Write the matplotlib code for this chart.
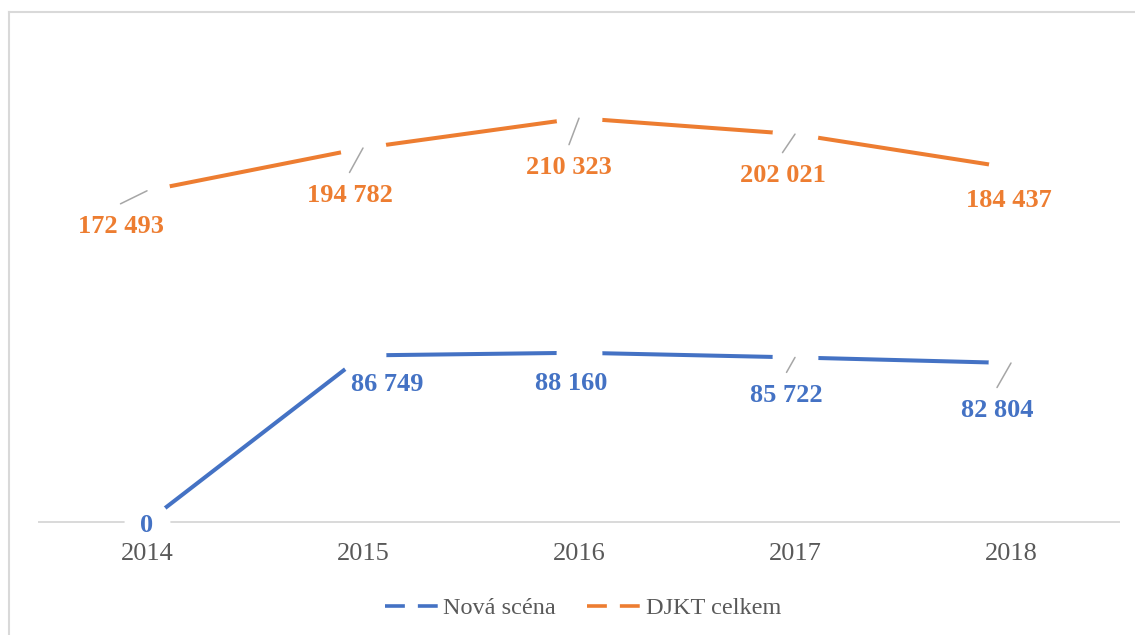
import matplotlib.pyplot as plt
from matplotlib.lines import Line2D

years = ['2014', '2015', '2016', '2017', '2018']
nova_scena = [0, 86749, 88160, 85722, 82804]
djkt_celkem = [172493, 194782, 210323, 202021, 184437]

# label placement relative to the point, in pixels (dx, dy downwards)
nova_offsets = [(0, 1), (24, 26), (-8, 28), (-8.5, 35), (-14, 44.5)]
djkt_offsets = [(-26.5, 33), (-13.5, 44.5), (-10, 46.5), (-12.5, 38.5), (-2, 30)]
nova_leaders = [False, False, False, True, True]
djkt_leaders = [True, True, True, True, False]

BLUE = '#4472C4'
ORANGE = '#ED7D31'
GRAY = '#595959'
FONT = 'Liberation Serif'


def fmt(v):
    return f'{v:,}'.replace(',', ' ')


def draw_series(ax, values, color, offsets, leaders):
    x = list(range(len(values)))
    ax.plot(x, values, color=color, lw=2.9, zorder=1.2, solid_capstyle='butt')
    # Excel leaves a gap in the line around each data label
    ax.plot(x, values, ls='none', marker='o', ms=33, mfc='white', mew=0,
            zorder=1.6, clip_on=False)
    for i, v in enumerate(values):
        dx, dy = offsets[i]
        if leaders[i]:
            ax.annotate('', xy=(i, v), xytext=(dx, -(dy - 20)),
                        textcoords='offset pixels',
                        arrowprops=dict(arrowstyle='-', color='#A6A6A6', lw=1.1,
                                        shrinkA=0, shrinkB=0), zorder=4)
        ax.annotate(fmt(v), xy=(i, v), xytext=(dx, -(dy + 9.5)),
                    textcoords='offset pixels', ha='center', va='baseline',
                    fontsize=19, fontweight='bold', color=color,
                    family=FONT, zorder=5, annotation_clip=False)


fig = plt.figure(figsize=(11.35, 6.35), dpi=100)
ax = fig.add_axes([39 / 1135, 113 / 635, 1080 / 1135, 480 / 635])

draw_series(ax, nova_scena, BLUE, nova_offsets, nova_leaders)
draw_series(ax, djkt_celkem, ORANGE, djkt_offsets, djkt_leaders)

ax.set_xlim(-0.5, len(years) - 0.5)
ax.set_ylim(0, 250000)
ax.set_xticks(range(len(years)))
ax.set_xticklabels(years, fontsize=19, color=GRAY, family=FONT)
ax.tick_params(axis='x', length=0, pad=15)
ax.xaxis.set_zorder(4)
ax.set_yticks([])
for side in ['top', 'right', 'left']:
    ax.spines[side].set_visible(False)
ax.spines['bottom'].set_color('#D9D9D9')
ax.spines['bottom'].set_linewidth(1.4)
ax.spines['bottom'].set_zorder(1)

handles = [
    Line2D([], [], color=BLUE, lw=2.6, ls=(0, (5.5, 3.6)), solid_capstyle='butt'),
    Line2D([], [], color=ORANGE, lw=2.6, ls=(0, (5.5, 3.6)), solid_capstyle='butt'),
]
leg = fig.legend(handles, ['Nová scéna', 'DJKT celkem'], loc='center',
                 bbox_to_anchor=(583 / 1135, 1 - 608 / 635), ncol=2,
                 frameon=False, handlelength=2.2, handletextpad=0.2,
                 columnspacing=1.3, prop={'family': FONT, 'size': 17.5})
for t in leg.get_texts():
    t.set_color(GRAY)

# chart border (top and left edges visible in the crop)
fig.add_artist(Line2D([9 / 1135, 1], [1 - 12 / 635, 1 - 12 / 635],
                      color='#D9D9D9', lw=1.5, transform=fig.transFigure))
fig.add_artist(Line2D([9 / 1135, 9 / 1135], [0, 1 - 12 / 635],
                      color='#D9D9D9', lw=1.5, transform=fig.transFigure))

fig.savefig('out.png', dpi=100)
